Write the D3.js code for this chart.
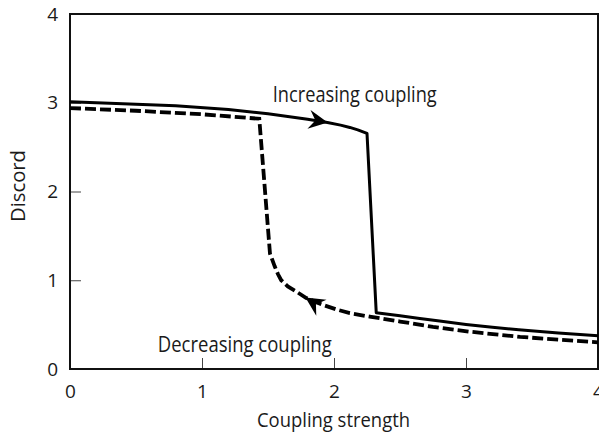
<!DOCTYPE html>
<html><head><meta charset="utf-8">
<script src="https://cdn.jsdelivr.net/npm/d3@7"></script>
<style>
body{margin:0;background:#fff}
text{font-family:"Open Sans",sans-serif;fill:#1a1a1a}
</style>
</head><body>
<svg id="c" width="599" height="435"></svg>
<script>
// ---- data ----
const xTicks = [0, 1, 2, 3, 4];
const yTicks = [0, 1, 2, 3, 4];
const increasingX = [0, 0.4, 0.8, 1.2, 1.5, 1.8, 1.95, 2.05, 2.12, 2.18, 2.25, 2.32, 2.5, 2.65, 2.8, 3.0, 3.2, 3.4, 3.7, 4.0];
const increasingY = [3.01, 2.99, 2.965, 2.925, 2.875, 2.815, 2.778, 2.748, 2.722, 2.695, 2.655, 0.635, 0.60, 0.568, 0.54, 0.502, 0.47, 0.443, 0.405, 0.375];
const decreasingX = [0, 0.5, 1.0, 1.434, 1.515, 1.53, 1.55, 1.575, 1.60, 1.65, 1.717, 1.79, 1.86, 1.93, 2.02, 2.12, 2.27, 2.5, 2.75, 3.03, 3.41, 3.7, 4.0];
const decreasingY = [2.94, 2.91, 2.87, 2.82, 1.30, 1.24, 1.16, 1.07, 1.0, 0.93, 0.87, 0.80, 0.755, 0.715, 0.67, 0.63, 0.59, 0.535, 0.475, 0.42, 0.362, 0.33, 0.30];
const annotations = [
  {text: "Increasing coupling", x: 1.536, y: 3.005, len: 164},
  {text: "Decreasing coupling", x: 0.665, y: 0.195, len: 174}
];
const arrowAtX = {increasing: 1.945, decreasing: 1.79};
const xTitle = "Coupling strength";
const yTitle = "Discord";

// ---- layout ----
const svg = d3.select("#c");
const x = d3.scaleLinear().domain([0, 4]).range([70, 598]);
const y = d3.scaleLinear().domain([0, 4]).range([369, 14]);

// ticks / labels
const gx = svg.append("g").attr("transform", `translate(0,${y(0)})`)
  .call(d3.axisBottom(x).tickValues(xTicks).tickFormat(d3.format("d"))
    .tickSizeInner(-11).tickSizeOuter(0).tickPadding(16));
const gy = svg.append("g").attr("transform", `translate(${x(0)},0)`)
  .call(d3.axisLeft(y).tickValues(yTicks).tickFormat(d3.format("d"))
    .tickSizeInner(-11).tickSizeOuter(0).tickPadding(12));
[gx, gy].forEach(g => {
  g.select(".domain").remove();
  g.selectAll(".tick line").attr("stroke", "#444").attr("stroke-width", 1);
  g.selectAll(".tick text").attr("font-family", "Open Sans").attr("font-size", 19).attr("fill", "#1a1a1a");
});

// frame
svg.append("rect")
  .attr("x", x(0)).attr("y", y(4))
  .attr("width", x(4) - x(0)).attr("height", y(0) - y(4))
  .attr("fill", "none").attr("stroke", "#111").attr("stroke-width", 2);

// curves
const line = d3.line().x(d => x(d[0])).y(d => y(d[1])).curve(d3.curveLinear);
const incData = increasingX.map((v, i) => [v, increasingY[i]]);
const decData = decreasingX.map((v, i) => [v, decreasingY[i]]);

const incPath = svg.append("path").datum(incData).attr("d", line)
  .attr("fill", "none").attr("stroke", "#000").attr("stroke-width", 3)
  .attr("stroke-linejoin", "round");
const decPath = svg.append("path").datum(decData).attr("d", line)
  .attr("fill", "none").attr("stroke", "#000").attr("stroke-width", 3.8)
  .attr("stroke-dasharray", "11,4");

// arrows
function placeArrow(pathSel, xv, reverse) {
  const node = pathSel.node();
  const total = node.getTotalLength();
  const target = x(xv);
  let lo = 0, hi = total;
  for (let i = 0; i < 40; i++) {
    const mid = (lo + hi) / 2;
    if (node.getPointAtLength(mid).x < target) lo = mid; else hi = mid;
  }
  const p = node.getPointAtLength(lo);
  const q = node.getPointAtLength(Math.max(0, lo - 4));
  let ang = Math.atan2(p.y - q.y, p.x - q.x) * 180 / Math.PI;
  if (reverse) ang += 180;
  svg.append("path")
    .attr("d", "M1,0 L-18,-9.5 L-11.5,0 L-18,9.5 Z")
    .attr("fill", "#000")
    .attr("transform", `translate(${p.x},${p.y}) rotate(${ang})`);
}
placeArrow(incPath, arrowAtX.increasing, false);
placeArrow(decPath, arrowAtX.decreasing, true);

// annotations
svg.selectAll("text.ann").data(annotations).enter().append("text")
  .attr("class", "ann")
  .attr("x", d => x(d.x)).attr("y", d => y(d.y))
  .attr("font-size", 22)
  .attr("textLength", d => d.len).attr("lengthAdjust", "spacingAndGlyphs")
  .text(d => d.text);

// axis titles
svg.append("text")
  .attr("x", x(2) - 0.5).attr("y", 427)
  .attr("text-anchor", "middle").attr("font-size", 20)
  .attr("textLength", 153).attr("lengthAdjust", "spacingAndGlyphs")
  .text(xTitle);
svg.append("text")
  .attr("transform", `translate(25,${186}) rotate(-90)`)
  .attr("text-anchor", "middle").attr("font-size", 20)
  .attr("textLength", 72).attr("lengthAdjust", "spacingAndGlyphs")
  .text(yTitle);
</script>
</body></html>
